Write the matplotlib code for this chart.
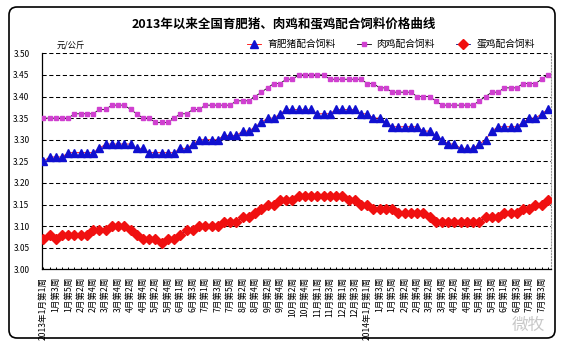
import matplotlib
matplotlib.use("Agg")
import matplotlib.pyplot as plt
from matplotlib.patches import FancyBboxPatch
from matplotlib.ticker import FixedLocator

plt.rcParams['font.family'] = ['Noto Sans CJK SC', 'DejaVu Sans']

# Weekly compound feed prices (yuan/kg), 2013 week 1 onward
fattening_pig = [
    3.25, 3.26, 3.26, 3.26, 3.27, 3.27, 3.27, 3.27, 3.27, 3.28,
    3.29, 3.29, 3.29, 3.29, 3.29, 3.28, 3.28, 3.27, 3.27, 3.27,
    3.27, 3.27, 3.28, 3.28, 3.29, 3.30, 3.30, 3.30, 3.30, 3.31,
    3.31, 3.31, 3.32, 3.32, 3.33, 3.34, 3.35, 3.35, 3.36, 3.37,
    3.37, 3.37, 3.37, 3.37, 3.36, 3.36, 3.36, 3.37, 3.37, 3.37,
    3.37, 3.36, 3.36, 3.35, 3.35, 3.34, 3.33, 3.33, 3.33, 3.33,
    3.33, 3.32, 3.32, 3.31, 3.30, 3.29, 3.29, 3.28, 3.28, 3.28,
    3.29, 3.30, 3.32, 3.33, 3.33, 3.33, 3.33, 3.34, 3.35, 3.35,
    3.36, 3.37,
]
broiler = [
    3.35, 3.35, 3.35, 3.35, 3.35, 3.36, 3.36, 3.36, 3.36, 3.37,
    3.37, 3.38, 3.38, 3.38, 3.37, 3.36, 3.35, 3.35, 3.34, 3.34,
    3.34, 3.35, 3.36, 3.36, 3.37, 3.37, 3.38, 3.38, 3.38, 3.38,
    3.38, 3.39, 3.39, 3.39, 3.40, 3.41, 3.42, 3.43, 3.43, 3.44,
    3.44, 3.45, 3.45, 3.45, 3.45, 3.45, 3.44, 3.44, 3.44, 3.44,
    3.44, 3.44, 3.43, 3.43, 3.42, 3.42, 3.41, 3.41, 3.41, 3.41,
    3.40, 3.40, 3.40, 3.39, 3.38, 3.38, 3.38, 3.38, 3.38, 3.38,
    3.39, 3.40, 3.41, 3.41, 3.42, 3.42, 3.42, 3.43, 3.43, 3.43,
    3.44, 3.45,
]
layer = [
    3.07, 3.08, 3.07, 3.08, 3.08, 3.08, 3.08, 3.08, 3.09, 3.09,
    3.09, 3.10, 3.10, 3.10, 3.09, 3.08, 3.07, 3.07, 3.07, 3.06,
    3.07, 3.07, 3.08, 3.09, 3.09, 3.10, 3.10, 3.10, 3.10, 3.11,
    3.11, 3.11, 3.12, 3.12, 3.13, 3.14, 3.15, 3.15, 3.16, 3.16,
    3.16, 3.17, 3.17, 3.17, 3.17, 3.17, 3.17, 3.17, 3.17, 3.16,
    3.16, 3.15, 3.15, 3.14, 3.14, 3.14, 3.14, 3.13, 3.13, 3.13,
    3.13, 3.13, 3.12, 3.11, 3.11, 3.11, 3.11, 3.11, 3.11, 3.11,
    3.11, 3.12, 3.12, 3.12, 3.13, 3.13, 3.13, 3.14, 3.14, 3.15,
    3.15, 3.16,
]

# Labels shown on every second week
week_labels = [
    "2013年1月第1周", "1月第3周", "1月第5周", "2月第2周", "2月第4周",
    "3月第2周", "3月第4周", "4月第2周", "4月第4周", "5月第2周",
    "5月第4周", "6月第1周", "6月第3周", "7月第1周", "7月第3周",
    "7月第5周", "8月第2周", "8月第4周", "9月第2周", "9月第4周",
    "10月第2周", "10月第4周", "11月第1周", "11月第3周", "12月第1周",
    "12月第3周", "2014年1月第1周", "1月第3周", "1月第5周", "2月第2周",
    "2月第4周", "3月第2周", "3月第4周", "4月第2周", "4月第4周",
    "5月第1周", "5月第3周", "6月第1周", "6月第3周", "7月第1周",
    "7月第3周",
]
y_ticks = [3.00, 3.05, 3.10, 3.15, 3.20, 3.25, 3.30, 3.35, 3.40, 3.45, 3.50]

W, H = 562, 346
fig = plt.figure(figsize=(W / 100, H / 100), dpi=100)
ax = fig.add_axes([42 / W, 1 - 269.3 / H, (551 - 42) / W, (269.3 - 53.3) / H])

x = list(range(len(fattening_pig)))
ax.plot(x, fattening_pig, color='#FF0000', lw=0.6, marker='^', ms=5.2,
        mfc='#1010D0', mec='#1010D0', label='育肥猪配合饲料', zorder=3)
ax.plot(x, broiler, color='#000000', lw=0.6, marker='s', ms=2.6,
        mfc='#D040D0', mec='#D040D0', label='肉鸡配合饲料', zorder=3)
ax.plot(x, layer, color='#000080', lw=0.6, marker='D', ms=4.6,
        mfc='#F01010', mec='#F01010', label='蛋鸡配合饲料', zorder=3)

ax.set_xlim(-0.21, 81.5)
ax.set_ylim(3.0, 3.5)
ax.set_yticks(y_ticks)
ax.set_yticklabels([f"{v:.2f}" for v in y_ticks], fontsize=6)
ax.tick_params(axis='y', length=0, pad=9)

label_pos = list(range(0, 2 * len(week_labels), 2))
ax.set_xticks(label_pos)
ax.set_xticklabels(week_labels, rotation=90, fontsize=6.2)
ax.xaxis.set_minor_locator(FixedLocator(x))
ax.tick_params(axis='x', which='both', direction='in', length=1.6,
               width=0.7, pad=5.5)

ax.yaxis.grid(True, color='black', lw=0.75, ls=(0, (4, 2.5)))
ax.set_axisbelow(True)
ax.spines['top'].set_visible(False)
ax.spines['right'].set_color('#999999')
ax.spines['right'].set_linestyle(':')
ax.spines['right'].set_linewidth(0.8)
ax.spines['left'].set_linewidth(0.9)
ax.spines['bottom'].set_linewidth(0.9)

fig.text(284 / W, 1 - 24 / H, "2013年以来全国育肥猪、肉鸡和蛋鸡配合饲料价格曲线",
         ha='center', va='center', fontsize=9, fontweight='bold')
fig.text(57 / W, 1 - 45 / H, "元/公斤", ha='left', va='center',
         fontsize=6, style='italic')

handles, labels = ax.get_legend_handles_labels()
fig.legend(handles, labels, loc='center left',
           bbox_to_anchor=(247 / W, 1 - 44 / H), ncol=3, frameon=False,
           fontsize=7, handlelength=1.45, handletextpad=0.6,
           columnspacing=2.2, borderpad=0, borderaxespad=0)

# Rounded chart frame
frame = FancyBboxPatch((0.09, 0.08), 5.46, 3.31,
                       boxstyle="round,pad=0,rounding_size=0.08",
                       transform=fig.dpi_scale_trans, fill=False,
                       edgecolor='black', lw=1.2)
fig.add_artist(frame)

fig.text(545 / W, 1 - 325 / H, "微牧", ha='right', va='center',
         fontsize=12, color='#c8c8c8')

fig.savefig('out.png', dpi=100)
